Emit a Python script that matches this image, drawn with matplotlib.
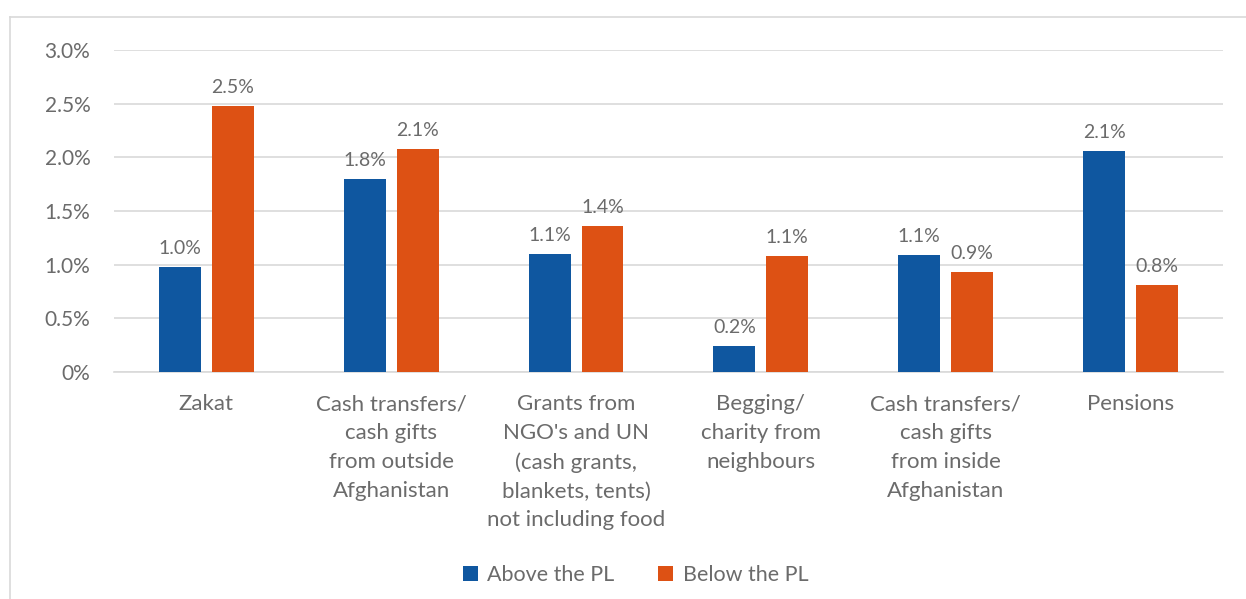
import matplotlib
matplotlib.use("Agg")
import matplotlib.pyplot as plt
import numpy as np
from matplotlib.lines import Line2D
from matplotlib.ticker import FuncFormatter

# ── Data ─────────────────────────────────────────────────────────────────────
categories = [
    "Zakat",
    "Cash transfers/\ncash gifts\nfrom outside\nAfghanistan",
    "Grants from\nNGO's and UN\n(cash grants,\nblankets, tents)\nnot including food",
    "Begging/\ncharity from\nneighbours",
    "Cash transfers/\ncash gifts\nfrom inside\nAfghanistan",
    "Pensions",
]
above_pl = [0.98, 1.80, 1.10, 0.24, 1.09, 2.06]
below_pl = [2.48, 2.08, 1.36, 1.08, 0.93, 0.81]
series_names = ["Above the PL", "Below the PL"]
yticks = [0, 0.5, 1.0, 1.5, 2.0, 2.5, 3.0]

# ── Style ────────────────────────────────────────────────────────────────────
BLUE = "#0F57A0"
ORANGE = "#DD5114"
TEXT = "#6b6b6b"
GRID = "#D9D9D9"
plt.rcParams["font.family"] = ["Lato", "DejaVu Sans"]

fig = plt.figure(figsize=(12.46, 5.99), dpi=100)
ax = fig.add_axes([0.0915, 0.379, 0.890, 0.5375])

x = np.arange(len(categories))
offset = 0.143
width = 0.227
b1 = ax.bar(x - offset, above_pl, width, color=BLUE, label=series_names[0], zorder=3)
b2 = ax.bar(x + offset, below_pl, width, color=ORANGE, label=series_names[1], zorder=3)

for bars, vals in [(b1, above_pl), (b2, below_pl)]:
    for rect, v in zip(bars, vals):
        ax.annotate(f"{v:.1f}%", (rect.get_x() + rect.get_width() / 2, v),
                    textcoords="offset points", xytext=(0, 7),
                    ha="center", va="bottom", fontsize=14, color=TEXT)

ax.set_xlim(-0.5, len(categories) - 0.5)
ax.set_ylim(0, 3.0)
ax.set_yticks(yticks)
ax.yaxis.set_major_formatter(FuncFormatter(lambda v, p: "0%" if v == 0 else f"{v:.1f}%"))
ax.set_xticks(x)
ax.set_xticklabels(categories, linespacing=1.55, fontsize=16)
ax.tick_params(axis="both", length=0, labelcolor=TEXT)
ax.tick_params(axis="y", pad=17, labelsize=15)
ax.tick_params(axis="x", pad=16)

ax.grid(axis="y", color=GRID, linewidth=1.2, zorder=0)
for s in ["top", "right", "left"]:
    ax.spines[s].set_visible(False)
ax.spines["bottom"].set_color(GRID)
ax.spines["bottom"].set_linewidth(1.2)

fig.legend(loc="center", bbox_to_anchor=(0.51, 0.04), ncol=2, frameon=False,
           handlelength=0.7, handleheight=0.7, columnspacing=2.0,
           handletextpad=0.45, fontsize=15.5, labelcolor=TEXT)

# chart frame (top and left edges visible)
fig.add_artist(Line2D([10 / 1246, 1.0], [1 - 17 / 599] * 2, transform=fig.transFigure,
                      color=GRID, linewidth=1.2))
fig.add_artist(Line2D([10 / 1246] * 2, [0, 1 - 17 / 599], transform=fig.transFigure,
                      color=GRID, linewidth=1.2))

fig.savefig("out.png", dpi=100)
